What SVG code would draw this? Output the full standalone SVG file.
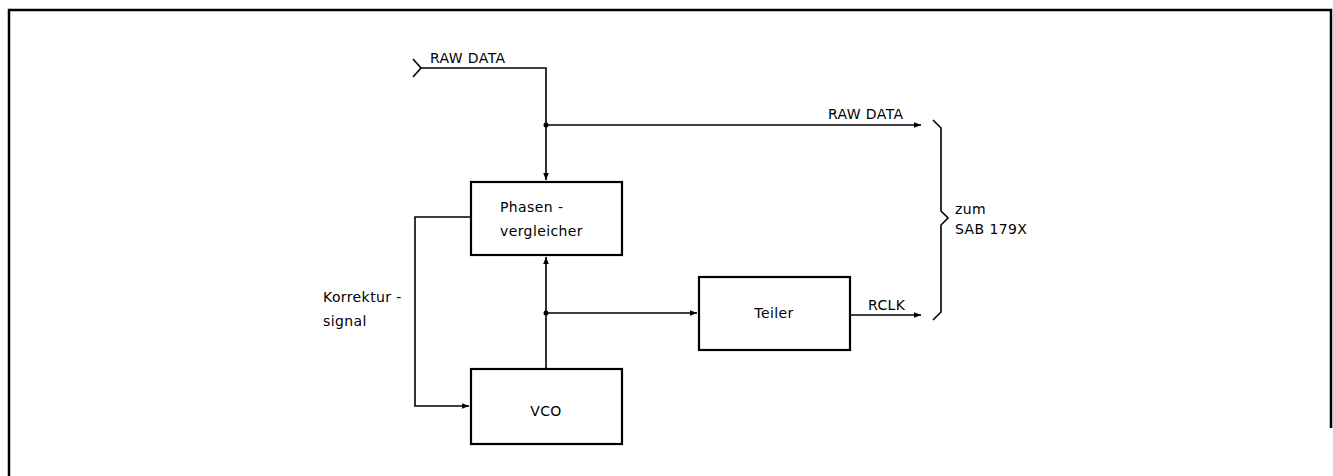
<svg xmlns="http://www.w3.org/2000/svg" width="1333" height="476" viewBox="0 0 1333 476">
<style>
.box{fill:#fff;stroke:#000;stroke-width:2.2}
.ln{fill:none;stroke:#000;stroke-width:1.6}
.frame{fill:none;stroke:#000;stroke-width:2.5}
text{font-family:"DejaVu Sans","Liberation Sans",sans-serif;font-size:14px;letter-spacing:0.4px;fill:#000}
</style>
<defs>
<marker id="ah" viewBox="0 0 10 10" refX="10" refY="5" markerWidth="7" markerHeight="7" markerUnits="userSpaceOnUse" orient="auto">
<path d="M0,1 L10,5 L0,9 Z" fill="#000"/>
</marker>
</defs>
<rect width="1333" height="476" fill="#fff"/>
<path class="frame" d="M9,476 V10 H1331 V428"/>
<g id="connectors">
<path class="ln" d="M413,59 L421,68 L413,77"/>
<path class="ln" d="M421,68 H546 V180" marker-end="url(#ah)"/>
<path class="ln" d="M546,125 H921" marker-end="url(#ah)"/>
<circle cx="546" cy="125" r="2.5"/>
<path class="ln" d="M546,369 V257" marker-end="url(#ah)"/>
<circle cx="546" cy="313" r="2.5"/>
<path class="ln" d="M546,313 H697" marker-end="url(#ah)"/>
<path class="ln" d="M851,315 H921" marker-end="url(#ah)"/>
<path class="ln" d="M470,217 H415 V406 H469" marker-end="url(#ah)"/>
<path class="ln" d="M933,120 L941,128 V211 L948,218 L941,225 V312 L933,320"/>
<text x="430" y="63">RAW DATA</text>
<text x="828" y="119">RAW DATA</text>
<text x="868" y="310">RCLK</text>
<text x="323" y="302">Korrektur -</text>
<text x="323" y="326">signal</text>
<text x="955" y="214">zum</text>
<text x="955" y="234">SAB 179X</text>
</g>
<g id="phasen">
<rect class="box" x="471" y="182" width="151" height="73"/>
<text x="500" y="212">Phasen -</text>
<text x="500" y="236">vergleicher</text>
</g>
<g id="vco">
<rect class="box" x="471" y="369" width="151" height="75"/>
<text x="546" y="416" text-anchor="middle">VCO</text>
</g>
<g id="teiler">
<rect class="box" x="699" y="277" width="151" height="73"/>
<text x="774" y="318" text-anchor="middle">Teiler</text>
</g>
</svg>
